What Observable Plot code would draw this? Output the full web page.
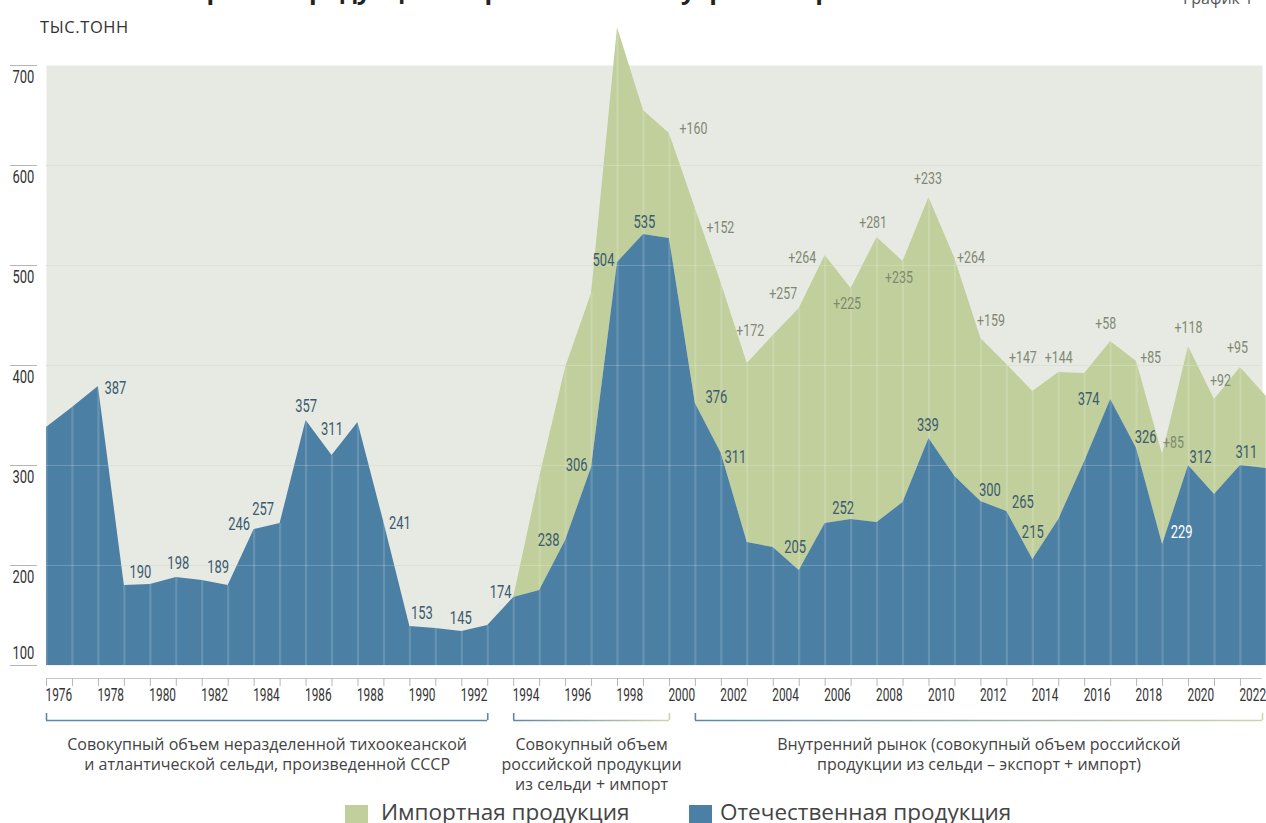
<!DOCTYPE html>
<html><head><meta charset="utf-8">
<script src="https://cdn.jsdelivr.net/npm/d3@7"></script>
<script src="https://cdn.jsdelivr.net/npm/@observablehq/plot@0.6"></script>
<style>
body{margin:0;background:#fff;width:1266px;height:823px;overflow:hidden;position:relative;font-family:"Open Sans","Noto Sans",sans-serif;color:#333;}
#title{position:absolute;left:40px;top:-28px;font-weight:700;font-size:25px;color:#222;white-space:nowrap;}
#tag{position:absolute;left:1183px;top:-13px;font-size:16px;color:#555;white-space:nowrap;}
#unit{position:absolute;left:40px;top:15px;font-size:16.5px;letter-spacing:0.6px;color:#333;}
#chart{position:absolute;left:0;top:0;}
.lg{position:absolute;top:796px;font-size:22.5px;color:#444;white-space:nowrap;}
.sw{position:absolute;top:805px;width:23px;height:23px;}
</style></head><body>
<div id="chart"></div>
<div id="title">Объем импортной продукции на российском внутреннем рынке в 1976-2022 гг.</div>
<div id="tag">График 1</div>
<div id="unit">ТЫС.ТОНН</div>
<div class="sw" id="swImp" style="left:345px;background:#c0cf9b"></div>
<div class="lg" id="lgImp" style="left:381px"></div>
<div class="sw" id="swDom" style="left:689px;background:#4b7fa4"></div>
<div class="lg" id="lgDom" style="left:720px"></div>
<script>
// ---------- data ----------
const years = [1976,1977,1978,1979,1980,1981,1982,1983,1984,1985,1986,1987,1988,1989,1990,1991,1992,1993,1994,1995,1996,1997,1998,1999,2000,2001,2002,2003,2004,2005,2006,2007,2008,2009,2010,2011,2012,2013,2014,2015,2016,2017,2018,2019,2020,2021,2022,2023];
const domestic = [338,358,379,180,181,188,185,180,236,242,345,310,343,243,139,137,134,140,168,175,225,298,503,531,527,362,312,223,218,195,242,246,243,263,327,289,264,254,206,246,304,366,317,221,300,271,300,297];
const imports = [0,0,0,0,0,0,0,0,0,0,0,0,0,0,0,0,0,0,0,113,173,174,235,124,105,195,170,179,212,262,268,231,285,241,241,218,163,147,168,147,88,58,87,90,119,95,98,72];

const domLabelYears = [1978,1980,1981,1983,1984,1985,1986,1987,1989,1990,1992,1994,1996,1997,1998,1999,2001,2002,2005,2007,2010,2012,2013,2014,2017,2018,2019,2020,2022];
const domLabelText = ["387","190","198","189","246","257","357","311","241","153","145","174","238","306","504","535","376","311","205","252","339","300","265","215","374","326","229","312","311"];
const impLabelYears = [2000,2001,2003,2005,2006,2007,2008,2009,2010,2011,2012,2013,2015,2017,2018,2019,2020,2021,2022];
const impLabelText = ["+160","+152","+172","+257","+264","+225","+281","+235","+233","+264","+159","+147","+144","+58","+85","+85","+118","+92","+95"];

const yTicks = [100,200,300,400,500,600,700];
const xLabelYears = [1976,1978,1980,1982,1984,1986,1988,1990,1992,1994,1996,1998,2000,2002,2004,2006,2008,2010,2012,2014,2016,2018,2020,2022];
const xTickYears = [1976,1977,1978,1979,1980,1981,1982,1983,1984,1985,1986,1987,1988,1989,1990,1991,1992,1993,1994,1995,1996,1997,1998,1999,2000,2001,2002,2003,2004,2005,2006,2007,2008,2009,2010,2011,2012,2013,2014,2015,2016,2017,2018,2019,2020,2021,2022];

const groupStart = [1976,1994,2001];
const groupEnd = [1993,2000,2022.85];
const groupText = [
  "Совокупный объем неразделенной тихоокеанской\nи атлантической сельди, произведенной СССР",
  "Совокупный объем\nроссийской продукции\nиз сельди + импорт",
  "Внутренний рынок (совокупный объем российской\nпродукции из сельди – экспорт + импорт)"
];
const legendText = ["Импортная продукция","Отечественная продукция"];

// ---------- styles / placement ----------
const domLabelDx = [17,-10,2,-10,-15,-17,0,0,16,12,-1,-13,-17,-15,-14,1,21,14,-4,-8,-1,9,16,0,-22,9,19,12,6];
const domLabelDy = [2,-12,-14,-18,-5,-14,-14,-26,1,-13,-13,-5,0,-2,-2,-12,-6,4,-23,-11,-13,-11,-9,-27,0,-11,-12,-8,-13];
const domLabelFill = domLabelYears.map(y => y === 2019 ? "#ffffff" : "#3c5a70");
const impLabelDx = [24,25,3,-16,-23,-4,-4,-4,-1,16,10,16,0,-5,14,11,0,6,-3];
const impLabelDy = [-5,19,-33,-15,2,15,-15,16,-19,-1,-18,-7,-15,-18,-4,-12,-19,-19,-20];
const bracketFrom = ["#5b88aa","#5b88aa","#5b88aa"];
const bracketTo = ["#5b88aa","#cad7a6","#cad7a6"];
const numFont = "Roboto,'Noto Sans',sans-serif";
// horizontal squeeze per numeric font size (the reference uses a condensed numeric face)
const squeeze = {"18": 0.72, "16.5": 0.75, "18.5": 0.64};

document.getElementById("lgImp").textContent = legendText[0];
document.getElementById("lgDom").textContent = legendText[1];

const table = years.map((y,i) => ({year:y, domestic:domestic[i], total:domestic[i]+imports[i]}));
const byYear = new Map(table.map(d => [d.year, d]));
const domLabels = domLabelYears.map((y,i) => ({year:y, v:byYear.get(y).domestic, t:domLabelText[i], dx:domLabelDx[i], dy:domLabelDy[i], fill:domLabelFill[i]}));
const impLabels = impLabelYears.map((y,i) => ({year:y, v:byYear.get(y).total, t:impLabelText[i], dx:impLabelDx[i], dy:impLabelDy[i]}));
const groups = groupStart.map((s,i) => ({start:s, end:groupEnd[i], text:groupText[i], id:"brk"+i}));

function gradientDefs(index, scales) {
  const defs = d3.create("svg:defs");
  groups.forEach((g,i) => {
    const lg = defs.append("linearGradient").attr("id", g.id).attr("gradientUnits","userSpaceOnUse")
      .attr("x1", scales.x(g.start)).attr("x2", scales.x(g.end)).attr("y1",0).attr("y2",0);
    lg.append("stop").attr("offset",0).attr("stop-color", bracketFrom[i]);
    lg.append("stop").attr("offset",1).attr("stop-color", bracketTo[i]);
  });
  return defs.node();
}

const labelMarks = [];
domLabels.forEach(d => labelMarks.push(Plot.text([d], {x:"year", y:"v", text:"t", dx:d.dx, dy:d.dy, fill:d.fill, fontSize:18, fontFamily:numFont})));
impLabels.forEach(d => labelMarks.push(Plot.text([d], {x:"year", y:"v", text:"t", dx:d.dx, dy:d.dy, fill:"#7f8872", fontSize:16.5, fontFamily:numFont})));

const bracketMarks = [];
groups.forEach(g => {
  bracketMarks.push(Plot.ruleY([g], {y:() => 100, x1:"start", x2:"end", dy:55, stroke:`url(#${g.id})`, strokeWidth:1.6}));
  bracketMarks.push(Plot.ruleX([g.start, g.end], {x:d => d, y1:() => 100, y2:() => 100, dy:55, insetTop:-7, stroke:`url(#${g.id})`, strokeWidth:1.6}));
  bracketMarks.push(Plot.text([g], {x:d => (d.start + d.end)/2, y:() => 100, text:"text", dy:70, lineAnchor:"top", lineHeight:1.25, fontSize:16, fill:"#444", fontFamily:"'Open Sans','Noto Sans',sans-serif"}));
});

const chart = Plot.plot({
  width:1266, height:800,
  marginLeft:46, marginRight:4, marginTop:65, marginBottom:135,
  x:{domain:[1976, 2022.85]},
  y:{domain:[100, 700]},
  style:{background:"transparent", overflow:"visible"},
  marks:[
    gradientDefs,
    Plot.frame({fill:"#e7eae3", stroke:null}),
    Plot.ruleY(yTicks.slice(1,6), {stroke:"#d6dad1", strokeWidth:1.2}),
    Plot.areaY(table, {x:"year", y1:"domestic", y2:"total", fill:"#c0cf9b"}),
    Plot.areaY(table, {x:"year", y1:() => 100, y2:"domestic", fill:"#4b7fa4"}),
    Plot.ruleX(table, {x:"year", y1:() => 100, y2:"total", stroke:"#ffffff", strokeOpacity:0.16, strokeWidth:2.2}),
    Plot.ruleY(yTicks.slice(1,6), {stroke:"#ffffff", strokeOpacity:0.2, strokeWidth:1.2}),
    Plot.axisY({ticks:yTicks, tickSize:27, dx:-9, tickFormat:() => "", stroke:"#b5b5b5"}),
    Plot.text(yTicks.slice(1), {y:d => d, frameAnchor:"left", dx:-34, dy:12, textAnchor:"start", text:d => String(d), fontSize:18, fill:"#333", fontFamily:numFont}),
    Plot.text([100], {y:d => d, frameAnchor:"left", dx:-34, dy:-12, textAnchor:"start", text:d => String(d), fontSize:18, fill:"#333", fontFamily:numFont}),
    Plot.ruleY([100], {dy:13, stroke:"#c8c8c8", strokeWidth:1.2}),
    Plot.axisX({ticks:xTickYears, tickSize:8, tickFormat:() => "", dy:13, stroke:"#b5b5b5"}),
    Plot.text(xLabelYears, {x:d => d, frameAnchor:"bottom", dy:35, dx:-1, textAnchor:"start", text:d => String(d), fontSize:18.5, fill:"#333", fontFamily:numFont}),
    ...labelMarks,
    ...bracketMarks
  ]
});
document.getElementById("chart").appendChild(chart);

chart.querySelectorAll("g[font-size]").forEach(g => {
  const fam = g.getAttribute("font-family") || "";
  const f = squeeze[g.getAttribute("font-size")];
  if (!f || !fam.startsWith("Roboto")) return;
  g.querySelectorAll("text").forEach(t => {
    const L = t.getComputedTextLength();
    if (L > 0) {
      t.setAttribute("textLength", (L * f).toFixed(2));
      t.setAttribute("lengthAdjust", "spacingAndGlyphs");
    }
  });
});
</script>
</body></html>
